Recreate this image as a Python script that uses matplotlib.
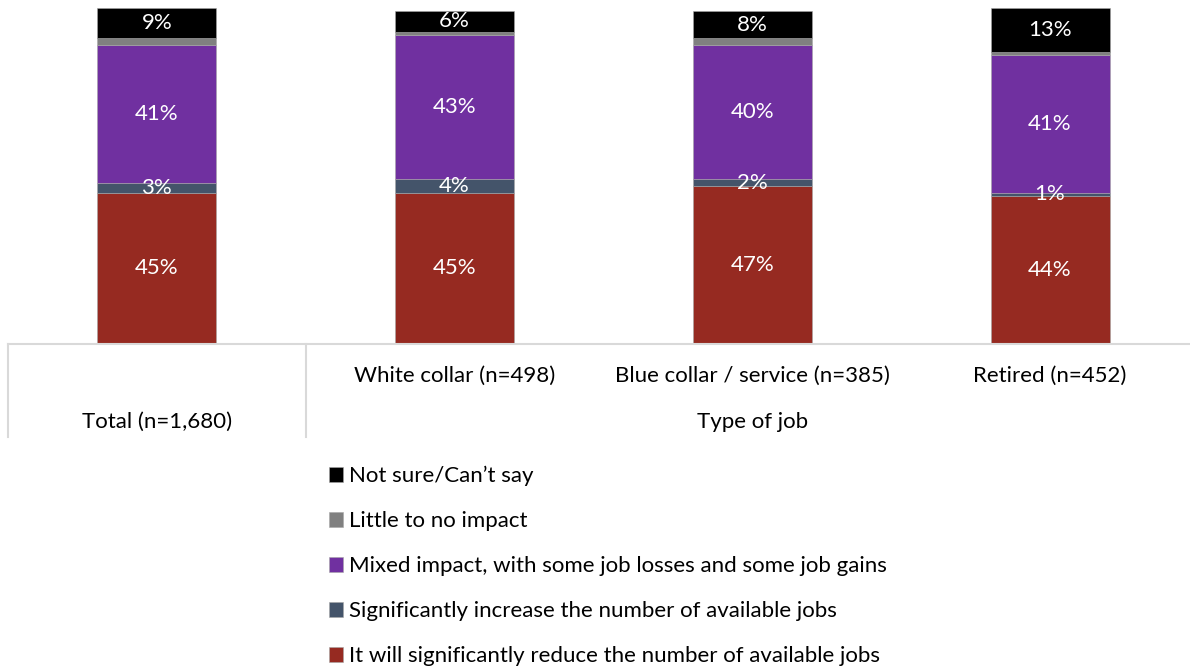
import matplotlib.pyplot as plt
import numpy as np

plt.rcParams['font.family'] = ['Lato', 'DejaVu Sans']

groups = ['Total (n=1,680)', 'White collar (n=498)', 'Blue collar / service (n=385)', 'Retired (n=452)']
series = ['It will significantly reduce the number of available jobs',
          'Significantly increase the number of available jobs',
          'Mixed impact, with some job losses and some job gains',
          'Little to no impact',
          'Not sure/Can\u2019t say']
reduce_jobs = [45, 45, 47, 44]
increase_jobs = [3, 4, 2, 1]
mixed = [41, 43, 40, 41]
little = [2, 1, 2, 1]
not_sure = [9, 6, 8, 13]
colors = ['#962A21', '#44546A', '#7030A0', '#808080', '#000000']

values = [reduce_jobs, increase_jobs, mixed, little, not_sure]
labelled = [True, True, True, False, True]

W, H = 1190, 667
FS = 16
fig = plt.figure(figsize=(W / 100, H / 100), dpi=100)
ax = fig.add_axes([8 / W, (H - 344) / H, 1182 / W, 336 / H])

x = np.arange(len(groups))
bottom = np.zeros(len(groups))
handles = []
for vals, col, name, lab in zip(values, colors, series, labelled):
    bars = ax.bar(x, vals, width=0.4, bottom=bottom, color=col, label=name,
                  edgecolor='#A6A6A6', linewidth=0.4)
    handles.append(bars)
    if lab:
        for xi, b, v in zip(x, bottom, vals):
            ax.text(xi, b + v / 2, f'{v}%', ha='center', va='center',
                    color='white', fontsize=FS)
    bottom += np.array(vals)

ax.set_xlim(-0.5, 3.47)
ax.set_ylim(0, 100)
for s in ['top', 'right', 'left']:
    ax.spines[s].set_visible(False)
ax.spines['bottom'].set_color('#D9D9D9')
ax.spines['bottom'].set_linewidth(1.5)
ax.set_yticks([])
ax.set_xticks([])

# two-level category axis
trans = ax.get_xaxis_transform()
for xv in [-0.5, 0.5]:
    ax.plot([xv, xv], [0, -0.277], transform=trans, color='#D9D9D9',
            linewidth=1.5, clip_on=False)
ax.text(0, -0.232, groups[0], transform=trans, ha='center', va='center', fontsize=FS)
for xi in x[1:]:
    ax.text(xi, -0.095, groups[xi], transform=trans, ha='center', va='center', fontsize=FS)
ax.text(2, -0.232, 'Type of job', transform=trans, ha='center', va='center', fontsize=FS)

fig.legend(handles[::-1], series[::-1], loc='upper left',
           bbox_to_anchor=(329 / W, 1 - 466 / H), frameon=False, fontsize=FS,
           handlelength=0.65, handleheight=0.65, handletextpad=0.27,
           labelspacing=1.12, borderpad=0, borderaxespad=0)

fig.savefig('out.png', dpi=100)
